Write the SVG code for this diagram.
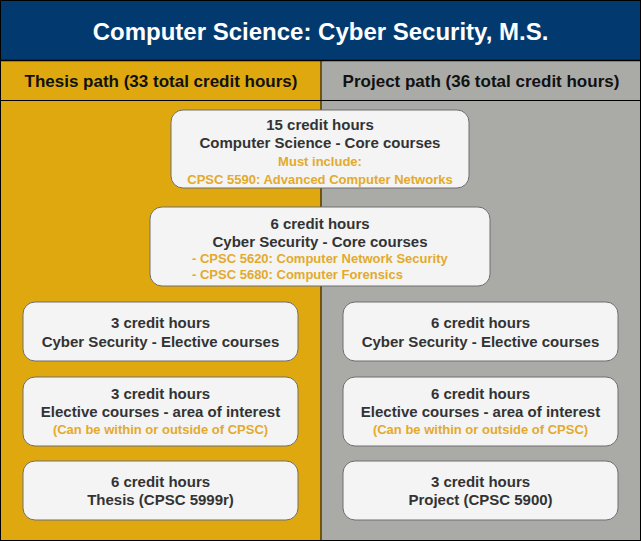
<svg xmlns="http://www.w3.org/2000/svg" width="641" height="541" viewBox="0 0 641 541">
<style>
.box{fill:#f4f4f4;stroke:#6e6e6e;stroke-width:1}
.t{font-family:"Liberation Sans",Arial,sans-serif;font-weight:bold;font-size:15px;fill:#333;text-anchor:middle}
.o{font-family:"Liberation Sans",Arial,sans-serif;font-weight:bold;font-size:13px;fill:#e3aa2c;text-anchor:middle}
.ol{text-anchor:start}
.h{font-family:"Liberation Sans",Arial,sans-serif;font-weight:bold;font-size:17px;fill:#111;text-anchor:middle}
</style>
<g id="background">
<rect x="0" y="0" width="641" height="60" fill="#023a70"/>
<rect x="0" y="60" width="321" height="481" fill="#e0a80f"/>
<rect x="321" y="60" width="320" height="481" fill="#aaaba6"/>
<line x1="0" y1="60.5" x2="641" y2="60.5" stroke="#000" stroke-width="1.5"/>
<line x1="0" y1="100.5" x2="641" y2="100.5" stroke="#000" stroke-width="1"/>
<line x1="321" y1="60" x2="321" y2="541" stroke="#000" stroke-width="1"/>
<rect x="0.5" y="0.5" width="640" height="540" fill="none" stroke="#000" stroke-width="1"/>
<text x="320.5" y="40" font-family="Liberation Sans,Arial,sans-serif" font-weight="bold" font-size="24" fill="#fff" text-anchor="middle">Computer Science: Cyber Security, M.S.</text>
<text class="h" x="161" y="87">Thesis path (33 total credit hours)</text>
<text class="h" x="481" y="87">Project path (36 total credit hours)</text>
</g>
<g id="cs-core">
<rect class="box" x="171" y="110" width="298" height="78" rx="12"/>
<text class="t" x="320" y="130">15 credit hours</text>
<text class="t" x="320" y="148">Computer Science - Core courses</text>
<text class="o" x="320" y="166">Must include:</text>
<text class="o" x="320" y="184">CPSC 5590: Advanced Computer Networks</text>
</g>
<g id="cyber-core">
<rect class="box" x="150" y="207" width="340" height="79" rx="12"/>
<text class="t" x="320" y="229">6 credit hours</text>
<text class="t" x="320" y="247">Cyber Security - Core courses</text>
<text class="o ol" x="192" y="263">- CPSC 5620: Computer Network Security</text>
<text class="o ol" x="192" y="279">- CPSC 5680: Computer Forensics</text>
</g>
<g id="thesis-elective">
<rect class="box" x="23" y="302" width="275" height="59" rx="12"/>
<text class="t" x="160.5" y="328">3 credit hours</text>
<text class="t" x="160.5" y="347">Cyber Security - Elective courses</text>
</g>
<g id="thesis-interest">
<rect class="box" x="23" y="377" width="275" height="69" rx="12"/>
<text class="t" x="160.5" y="399">3 credit hours</text>
<text class="t" x="160.5" y="417">Elective courses - area of interest</text>
<text class="o" x="160.5" y="434">(Can be within or outside of CPSC)</text>
</g>
<g id="thesis">
<rect class="box" x="23" y="461" width="275" height="59" rx="12"/>
<text class="t" x="160.5" y="487">6 credit hours</text>
<text class="t" x="160.5" y="505">Thesis (CPSC 5999r)</text>
</g>
<g id="project-elective">
<rect class="box" x="343" y="302" width="275" height="59" rx="12"/>
<text class="t" x="480.5" y="328">6 credit hours</text>
<text class="t" x="480.5" y="347">Cyber Security - Elective courses</text>
</g>
<g id="project-interest">
<rect class="box" x="343" y="377" width="275" height="69" rx="12"/>
<text class="t" x="480.5" y="399">6 credit hours</text>
<text class="t" x="480.5" y="417">Elective courses - area of interest</text>
<text class="o" x="480.5" y="434">(Can be within or outside of CPSC)</text>
</g>
<g id="project">
<rect class="box" x="343" y="461" width="275" height="59" rx="12"/>
<text class="t" x="480.5" y="487">3 credit hours</text>
<text class="t" x="480.5" y="505">Project (CPSC 5900)</text>
</g>
<g id="connectors"></g>
</svg>
